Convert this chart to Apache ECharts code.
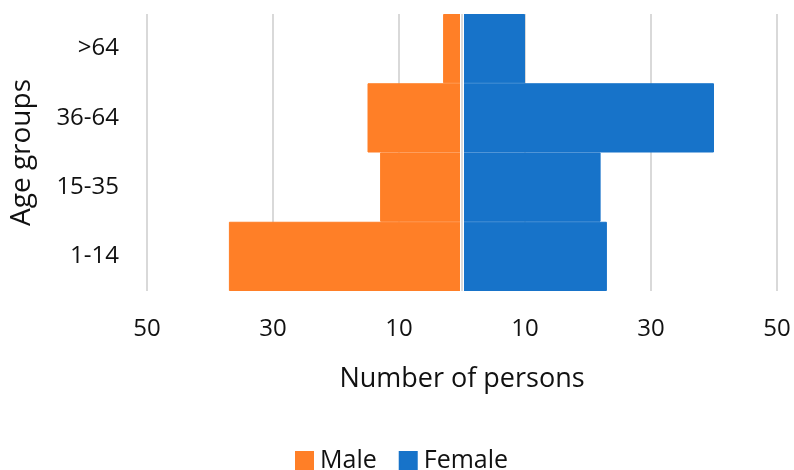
<!DOCTYPE html>
<html>
<head>
<meta charset="utf-8">
<script src="https://cdn.jsdelivr.net/npm/echarts@6/dist/echarts.min.js"></script>
<style>
  html, body { margin: 0; padding: 0; background: #fff; }
  #chart { width: 794px; height: 470px; }
</style>
</head>
<body>
<div id="chart"></div>
<script>
// Age groups, bottom to top
var ageGroups = ['1-14', '15-35', '36-64', '>64'];
// Number of persons per age group
var maleCounts = [37, 13, 15, 3];
var femaleCounts = [23, 22, 40, 10];
// Axis range and tick step for the population axis
var axisMin = -50;
var axisMax = 50;
var axisStep = 10;

var FONT = '"Open Sans", sans-serif';
var TEXT = '#111111';
var MALE_COLOR = '#ff7f27';
var FEMALE_COLOR = '#1773c9';

var chart = echarts.init(document.getElementById('chart'), null, { renderer: 'canvas' });

chart.setOption({
  animation: false,
  backgroundColor: '#ffffff',
  textStyle: { fontFamily: FONT, color: TEXT },
  grid: { left: 147, right: 17, top: 14, bottom: 179, containLabel: false },
  legend: {
    left: 290,
    top: 443,
    itemWidth: 17,
    itemHeight: 17,
    itemGap: 22,
    icon: 'rect',
    textStyle: { fontFamily: FONT, fontSize: 25, color: TEXT, padding: [0, 0, 0, 2] },
    data: ['Male', 'Female']
  },
  xAxis: {
    type: 'value',
    min: axisMin,
    max: axisMax,
    interval: axisStep,
    name: 'Number of persons',
    nameLocation: 'middle',
    nameGap: 75,
    nameTextStyle: { fontFamily: FONT, fontSize: 27, color: TEXT },
    axisLine: { show: false },
    axisTick: { show: false },
    axisLabel: {
      fontFamily: FONT,
      fontSize: 24,
      color: TEXT,
      margin: 26,
      formatter: function (v) {
        var a = Math.abs(v);
        return (a % 20 === 10) ? String(a) : '';
      }
    },
    splitLine: {
      show: true,
      lineStyle: { color: ['#d9d9d9', 'rgba(0,0,0,0)'], width: 2 }
    }
  },
  yAxis: {
    type: 'category',
    data: ageGroups,
    name: 'Age groups',
    nameLocation: 'middle',
    nameGap: 111,
    nameTextStyle: { fontFamily: FONT, fontSize: 28, color: TEXT },
    axisLine: { show: false },
    axisTick: { show: false },
    axisLabel: { fontFamily: FONT, fontSize: 24, color: TEXT, margin: 28 },
    splitLine: { show: false }
  },
  series: [
    {
      name: 'Male',
      type: 'bar',
      data: maleCounts.map(function (v) { return -v; }),
      barGap: '-100%',
      barCategoryGap: '0%',
      itemStyle: { color: MALE_COLOR, borderColor: MALE_COLOR, borderWidth: 1 },
      z: 2
    },
    {
      name: 'Female',
      type: 'bar',
      data: femaleCounts,
      barGap: '-100%',
      barCategoryGap: '0%',
      itemStyle: { color: FEMALE_COLOR, borderColor: FEMALE_COLOR, borderWidth: 1 },
      z: 2,
      markLine: {
        silent: true,
        symbol: ['none', 'none'],
        label: { show: false },
        data: [
          { xAxis: 0, lineStyle: { color: '#ffffff', width: 4, type: 'solid' } },
          { xAxis: 0, lineStyle: { color: '#cfcfcf', width: 1.5, type: 'solid' } }
        ]
      }
    }
  ]
});
</script>
</body>
</html>
